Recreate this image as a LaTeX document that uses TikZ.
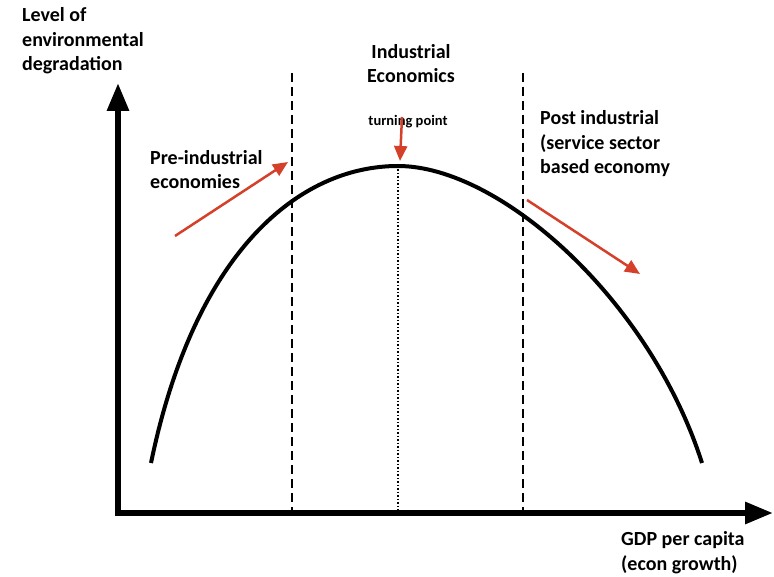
\documentclass[tikz,border=0pt]{standalone}
\usepackage{fontspec}
\setmainfont{Carlito}
\usetikzlibrary{arrows.meta}
\definecolor{arrowred}{RGB}{212,64,42}
\tikzset{
  axisline/.style={line width=6pt,-{Triangle[length=28pt,width=21pt]}},
  trendarrow/.style={arrowred,line width=2.5pt,-{Triangle[length=15pt,width=13pt]}},
  divider/.style={line width=2.5pt,dash pattern=on 9pt off 5pt},
  label/.style={font=\bfseries\fontsize{20}{24.5}\selectfont,align=left,inner sep=0pt},
}
\begin{document}
\begin{tikzpicture}[x=1pt,y=-1pt]
        \useasboundingbox (0,0) rectangle (774,577);
        % axes
        \coordinate (origin) at (118,513);
        \coordinate (ytip) at (118,83);
        \coordinate (xtip) at (773,513);
        \draw[axisline] ([yshift=-3pt]origin) -- (ytip);
        \draw[axisline] ([xshift=-3pt]origin) -- (xtip);
        % curve
        \coordinate (peak) at (398,166);
        \draw[line width=4pt] (151,463) .. controls (195,250) and (300,166) .. (peak)
            .. controls (500,166) and (650,300) .. (702,463);
        \draw[divider] (292,73) -- (292,513);
        \draw[divider] (523,73) -- (523,513);
        \draw[dotted,line width=1.5pt] (peak) -- (398,513);
        % labels (base = last line)
        \node[label,anchor=base west] (ylabel) at (22,71) {Level of\\environmental\\degradation};
        \node[label,anchor=base west] (xlabel) at (621,570) {GDP per capita\\(econ growth)};
        \node[label,anchor=base,align=center] (indus) at (411,83) {Industrial\\Economics};
        \node[label,anchor=base west] (pre) at (150,189) {Pre-industrial\\economies};
        \node[label,anchor=base west] (post) at (540,174) {Post industrial\\(service sector\\based economy};
        \node[font=\bfseries\fontsize{14.5}{16}\selectfont,inner sep=0pt,anchor=base] (turn) at (408,126) {turning point};
        % arrows
        \coordinate (preA) at (175,236); \coordinate (preB) at (288,162);
        \coordinate (turnA) at (402,117); \coordinate (turnB) at (400,161);
        \coordinate (postA) at (527,200); \coordinate (postB) at (640,274);
        \draw[trendarrow] (preA) -- (preB);
        \draw[trendarrow] (turnA) -- (turnB);
        \draw[trendarrow] (postA) -- (postB);
    \end{tikzpicture}
\end{document}
